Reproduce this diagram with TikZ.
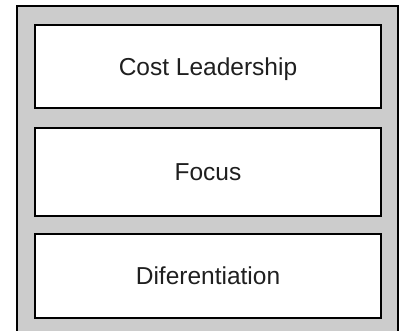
\documentclass[tikz,border=0pt]{standalone}
\usepackage{fontspec}
\setmainfont{Liberation Sans}
\begin{document}
\begin{tikzpicture}[x=1pt,y=-1pt]
\tikzstyle{every node}=[draw,line width=1.6pt,fill=white,minimum width=346pt,text depth=0pt,text=black!88,font=\fontsize{24.5}{28}\selectfont]
\useasboundingbox (0,0) rectangle (400,331);
\clip (0,0) rectangle (400,331);
\draw[line width=1.6pt,fill=gray!40] (17,6) rectangle (398,345);
\foreach \a/\b/\t [count=\i] in {25/108/Cost Leadership,128/216/Focus,234/318/Diferentiation}
 \node[minimum height={\b-\a}] (box\i) at (208,{(\a+\b)/2}) {\t};
\end{tikzpicture}
\end{document}
